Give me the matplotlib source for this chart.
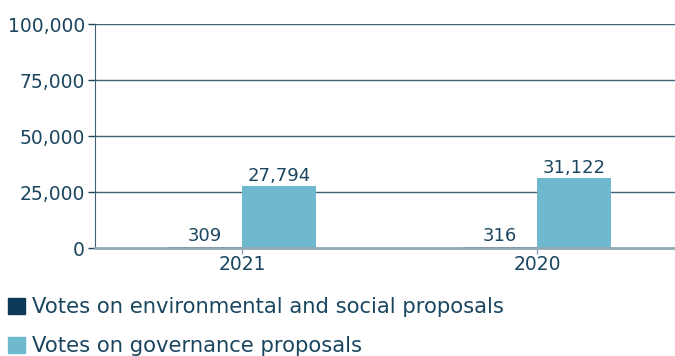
import matplotlib.pyplot as plt
import numpy as np
from matplotlib.patches import Patch

# data
years = ['2021', '2020']
env_social = [309, 316]
governance = [27794, 31122]
series_names = ['Votes on environmental and social proposals',
                'Votes on governance proposals']

text_col = '#1b4660'
dark = '#0d3b57'
light = '#6fb9ce'


def main():
  fig = plt.figure(figsize=(6.75, 3.56), dpi=100)
  ax = fig.add_axes([94.5 / 675, 1 - 248 / 356, 590 / 675, 224 / 356])

  x = np.arange(len(years))
  w = 0.25
  ax.bar(x - w / 2, env_social, w, color=dark)
  ax.bar(x + w / 2, governance, w, color=light)

  for xi, v in zip(x, env_social):
    ax.text(xi - w / 2, v + 1000, f'{v:,}', ha='center', va='bottom',
            fontsize=13, color=text_col)
  for xi, v in zip(x, governance):
    ax.text(xi + w / 2, v + 400, f'{v:,}', ha='center', va='bottom',
            fontsize=13, color=text_col)

  ax.set_xlim(-0.5, 1.5)
  ax.set_ylim(0, 100000)
  ax.set_yticks([0, 25000, 50000, 75000, 100000])
  ax.set_yticklabels(['0', '25,000', '50,000', '75,000', '100,000'])
  ax.set_xticks(x)
  ax.set_xticklabels(years)
  ax.tick_params(axis='y', colors=text_col, labelsize=13.5, length=5,
                 width=1, pad=2)
  ax.tick_params(axis='x', colors='#8aa2b0', labelcolor=text_col,
                 labelsize=13.5, length=4, width=1, pad=1)

  for y in [25000, 50000, 75000, 100000]:
    ax.axhline(y, color='#3d6278', lw=1, zorder=0)
  for s in ['top', 'right']:
    ax.spines[s].set_visible(False)
  ax.spines['left'].set_color('#3d6278')
  ax.spines['bottom'].set_color('#93a9b6')
  ax.spines['bottom'].set_linewidth(2)

  handles = [Patch(color=dark), Patch(color=light)]
  fig.legend(handles, series_names, loc='upper left',
             bbox_to_anchor=(0.006, 1 - 293 / 356), frameon=False,
             fontsize=15.2, labelcolor=text_col, handlelength=0.78,
             handleheight=0.78, handletextpad=0.35, labelspacing=0.9,
             borderaxespad=0, borderpad=0.2)

  fig.savefig('out.png', dpi=100)


if __name__ == '__main__':
  main()
